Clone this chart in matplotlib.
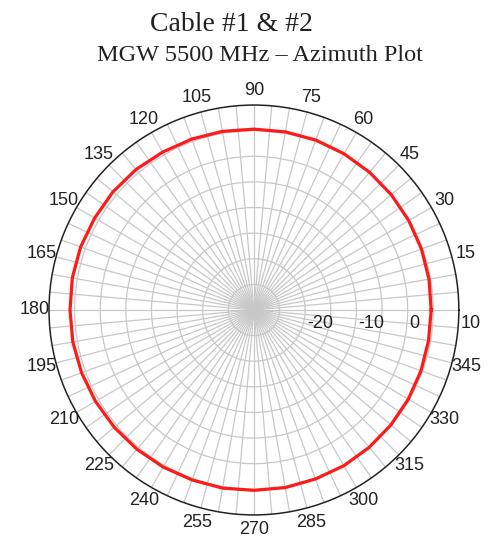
"""Azimuth radiation pattern, cable #1 & #2 at 5500 MHz."""

import numpy as np
import matplotlib
matplotlib.use("Agg")
import matplotlib.pyplot as plt

# azimuth angle (deg) and measured gain (dB)
azimuth_deg = [0, 10, 20, 30, 40, 50, 60, 70, 80, 90, 100, 110,
               120, 130, 140, 150, 160, 170, 180, 190, 200, 210, 220, 230,
               240, 250, 260, 270, 280, 290, 300, 310, 320, 330, 340, 350, 360]
gain_db = [4.6, 4.7, 4.8, 4.9, 5.0, 5.1, 5.2, 5.3, 5.3, 5.3, 5.4, 5.5,
           5.6, 5.8, 5.9, 5.9, 6.0, 6.0, 5.9, 5.9, 5.8, 5.7, 5.6, 5.5,
           5.4, 5.3, 5.3, 5.2, 5.2, 5.1, 5.1, 5.0, 4.9, 4.8, 4.7, 4.6, 4.6]

theta_ticks = list(range(0, 360, 5))
theta_labels = [str(t) if (t % 15 == 0 and t != 0) else "" for t in theta_ticks]
r_rings = [-25, -20, -15, -10, -5, 0, 5]
r_labels = [-20, -10, 0, 10]


def main() -> None:
    fig = plt.figure(figsize=(4.95, 5.38), dpi=100)
    ax = fig.add_axes([0.099, 0.0428, 0.828, 0.762], projection="polar")

    ax.set_ylim(-30, 10)
    ax.set_xticks(np.deg2rad(theta_ticks))
    ax.set_xticklabels(theta_labels, fontsize=13, family="Liberation Sans",
                       color="#222222")
    ax.tick_params(axis="x", pad=3.5, length=0)
    ax.set_yticks(r_rings)
    ax.set_yticklabels([])
    ax.grid(True, color="#c8c8c8", linewidth=0.9)
    ax.spines["polar"].set_color("#222222")
    ax.spines["polar"].set_linewidth(1.1)

    for r in r_labels:
        ax.annotate(str(r), xy=(0, r), xytext=(1.5, -3.5),
                    textcoords="offset points", ha="left", va="top",
                    fontsize=13, family="Liberation Sans", color="#222222",
                    annotation_clip=False)

    ax.plot(np.deg2rad(azimuth_deg), gain_db, color="#ff1a1a", linewidth=2.3)

    fig.text(0.467, 0.955, "Cable #1 & #2", ha="center", va="center",
             fontsize=20, family="Liberation Serif", color="#222222")
    fig.text(0.526, 0.896, "MGW 5500 MHz \u2013 Azimuth Plot", ha="center",
             va="center", fontsize=17.5, family="Liberation Serif",
             color="#222222")

    fig.savefig("out.png", dpi=100)


if __name__ == "__main__":
    main()
